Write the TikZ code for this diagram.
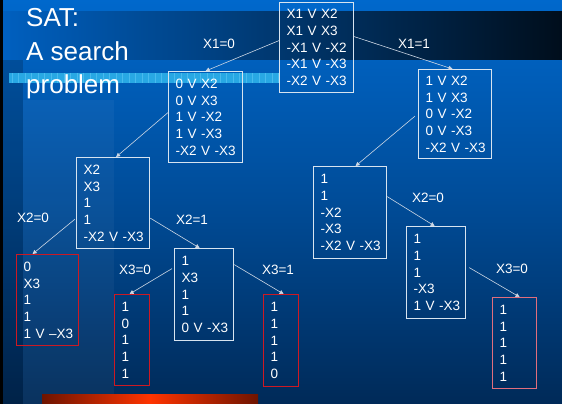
\documentclass[tikz,border=0pt]{standalone}
\usepackage{fontspec}
\setmainfont{Liberation Sans}
\usetikzlibrary{arrows.meta}

\definecolor{bgtop}{RGB}{0,104,204}
\definecolor{bgmid}{RGB}{0,76,152}
\definecolor{bgbot}{RGB}{0,42,88}
\definecolor{bandL}{RGB}{0,96,192}
\definecolor{bandR}{RGB}{0,14,28}
\definecolor{stripe}{RGB}{40,168,228}
\definecolor{stripeline}{RGB}{72,186,238}
\definecolor{boxline}{RGB}{215,228,240}
\definecolor{redline}{RGB}{205,25,35}
\definecolor{pinkline}{RGB}{225,110,125}
\definecolor{wire}{RGB}{205,215,228}
\definecolor{barDark}{RGB}{110,20,0}
\definecolor{barHot}{RGB}{255,52,0}

\tikzset{
  clause/.style={draw=boxline, line width=1.2pt, text=white, anchor=north west,
    align=left, inner xsep=7pt, inner ysep=0pt,
    font=\fontsize{13.5}{16.7}\selectfont,
    execute at begin node={\exhyphenpenalty=10000\hyphenpenalty=10000}},
  leaf/.style={clause, draw=redline},
  softleaf/.style={clause, draw=pinkline},
  branch/.style={text=white, inner sep=0pt, font=\fontsize{13.5}{16.7}\selectfont},
  wirearrow/.style={draw=wire, line width=0.6pt, -{Triangle[length=4pt,width=4pt]}, color=wire}
}

\begin{document}
\begin{tikzpicture}[x=1pt, y=-1pt]
  \useasboundingbox (0,0) rectangle (562,404);

  % slide background
  \fill[top color=bgtop, bottom color=bgbot, middle color=bgmid] (0,0) rectangle (562,404);
  \fill[left color=bandL, right color=bandR] (0,12) rectangle (562,60);
  \fill[black] (0,0) rectangle (3,404);
  \fill[black, opacity=0.18] (3,60) rectangle (23,404);
  \fill[white, opacity=0.04] (23,100) rectangle (114,404);

  % patterned accent stripe
  \fill[stripe] (9,73) rectangle (280,83);
  \foreach \x in {12,18.5,...,280} {
    \draw[stripeline, line width=0.5pt] (\x,73) -- (\x,83);
  }

  % bottom accent bar, glowing towards its middle
  \fill[left color=barDark, right color=barHot] (42,394) rectangle (151,404);
  \fill[left color=barHot, right color=barDark] (150,394) rectangle (258,404);

  % title
  \node[anchor=north west, inner sep=0pt, align=left, text=white,
        font=\fontsize{26}{33.5}\selectfont] (title) at (26,8.5) {SAT:\\A search\\problem};

  % search tree
  \node[clause, text width=60pt, minimum height=90pt] (root) at (279,2)
    {X1~V~X2\\X1~V~X3\\-X1~V~-X2\\-X1~V~-X3\\-X2~V~-X3};
  \node[clause, text width=60pt, minimum height=91pt] (A) at (168,71)
    {0~V~X2\\0~V~X3\\1~V~-X2\\1~V~-X3\\-X2~V~-X3};
  \node[clause, text width=59pt, minimum height=89pt] (B) at (418,69)
    {1~V~X2\\1~V~X3\\0~V~-X2\\0~V~-X3\\-X2~V~-X3};
  \node[clause, text width=59pt, minimum height=91pt] (C) at (76,157)
    {X2\\X3\\1\\1\\-X2~V~-X3};
  \node[leaf, text width=48pt, minimum height=91pt] (D) at (16,254)
    {0\\X3\\1\\1\\1~V~–X3};
  \node[clause, text width=45pt, minimum height=92pt] (E) at (174,248)
    {1\\X3\\1\\1\\0~V~-X3};
  \node[leaf, text width=21pt, minimum height=91pt] (F) at (114,294)
    {1\\0\\1\\1\\1};
  \node[leaf, text width=21pt, minimum height=92pt] (G) at (263,294)
    {1\\1\\1\\1\\0};
  \node[clause, text width=59pt, minimum height=92pt] (H) at (313,166)
    {1\\1\\-X2\\-X3\\-X2~V~-X3};
  \node[clause, text width=45pt, minimum height=92pt] (I) at (406,226)
    {1\\1\\1\\-X3\\1~V~-X3};
  \node[softleaf, text width=30pt, minimum height=91pt] (J) at (492,297)
    {1\\1\\1\\1\\1};

  % branch labels
  \node[branch] (l1) at (219,44) {X1=0};
  \node[branch] (l2) at (414,44) {X1=1};
  \node[branch] (l3) at (33,218) {X2=0};
  \node[branch] (l4) at (192,220) {X2=1};
  \node[branch] (l5) at (135,270) {X3=0};
  \node[branch] (l6) at (278,270) {X3=1};
  \node[branch] (l7) at (428,198) {X2=0};
  \node[branch] (l8) at (512,269) {X3=0};

  % connectors
  \draw[wirearrow] ([yshift=7pt]root.west) -- (A.north);
  \draw[wirearrow] ([yshift=11pt]root.east) -- ([xshift=-2.5pt]B.north);
  \draw[wirearrow] ([yshift=4.5pt]A.west) -- ([xshift=3pt]C.north);
  \draw[wirearrow] ([xshift=-3pt,yshift=-2pt]B.west) -- ([xshift=5.5pt]H.north);
  \draw[wirearrow] ([xshift=-1pt,yshift=-16pt]C.west) -- ([xshift=-15pt]D.north);
  \draw[wirearrow] ([yshift=-15pt]C.east) -- ([xshift=-4.5pt]E.north);
  \draw[wirearrow] ([xshift=-2pt,yshift=26pt]E.west) -- ([xshift=-2.5pt]F.north);
  \draw[wirearrow] ([yshift=30pt]E.east) -- ([xshift=2.5pt]G.north);
  \draw[wirearrow] ([yshift=16pt]H.east) -- ([xshift=-1.5pt]I.north);
  \draw[wirearrow] ([xshift=3pt,yshift=5pt]I.east) -- ([xshift=5pt]J.north);
\end{tikzpicture}
\end{document}
